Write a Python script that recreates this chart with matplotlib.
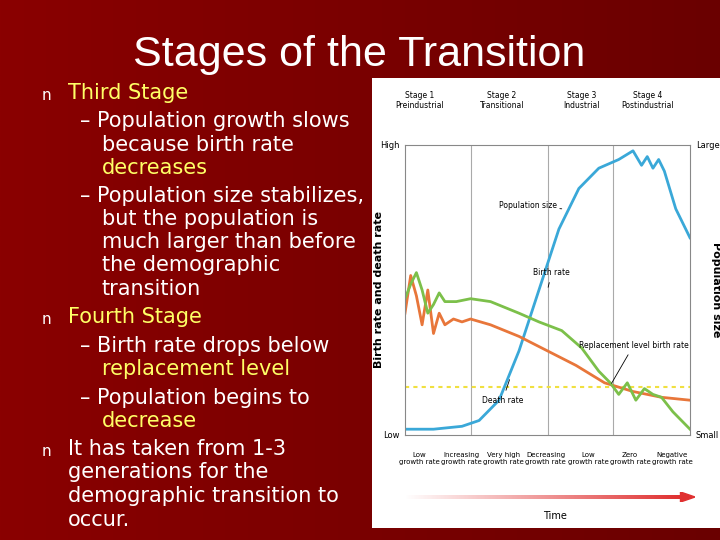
import numpy as np
import matplotlib
matplotlib.use("Agg")
import matplotlib.pyplot as plt
from matplotlib.colors import LinearSegmentedColormap

# ---- data (time 0-100, rates/pop 0-100) ----
birth_t = [0, 2, 4, 6, 8, 10, 12, 14, 18, 23, 30, 40, 47, 55, 62, 68, 72, 75, 78, 81, 84, 87, 90, 94, 97, 100]
birth_v = [47, 52, 56, 50, 42, 45, 49, 46, 46, 47, 46, 42, 39, 36, 30, 22, 18, 14, 18, 12, 16, 14, 13, 8, 5, 2]
death_t = [0, 2, 4, 6, 8, 10, 12, 14, 17, 20, 23, 30, 40, 50, 60, 70, 80, 90, 100]
death_v = [42, 55, 48, 38, 50, 35, 42, 38, 40, 39, 40, 38, 34, 29, 24, 18, 15, 13, 12]
pop_t = [0, 10, 20, 26, 33, 40, 47, 54, 61, 68, 75, 80, 83, 85, 87, 89, 91, 95, 100]
pop_v = [2, 2, 3, 5, 12, 29, 50, 71, 85, 92, 95, 98, 93, 96, 92, 95, 91, 78, 68]
replacement = 16.5
stage_bounds = [23, 50, 73]
stage_names = ["Stage 1\nPreindustrial", "Stage 2\nTransitional", "Stage 3\nIndustrial", "Stage 4\nPostindustrial"]
stage_x = [5, 34, 62, 85]
growth_labels = ["Low\ngrowth rate", "Increasing\ngrowth rate", "Very high\ngrowth rate", "Decreasing\ngrowth rate", "Low\ngrowth rate", "Zero\ngrowth rate", "Negative\ngrowth rate"]

W, H = 720, 540
fig = plt.figure(figsize=(7.2, 5.4), dpi=100)

bg = fig.add_axes([0, 0, 1, 1])
g = np.outer(np.ones(256), np.linspace(0, 1, 256))
cm = LinearSegmentedColormap.from_list("r", ["#8a0000", "#6a0000"])
bg.imshow(g, cmap=cm, aspect="auto", extent=[0, 1, 0, 1])
bg.set_axis_off()

def fx(px): return px / W
def fy(py): return 1 - py / H

fig.text(fx(359), fy(55), "Stages of the Transition", color="white", fontsize=31,
         ha="center", va="center", family="Liberation Sans")

Y = "#ffff66"
lines = [
    (68, 93, "Third Stage", Y, True),
    (80, 121, "– Population growth slows", "white", False),
    (102, 145, "because birth rate", "white", False),
    (102, 168, "decreases", Y, False),
    (80, 196, "– Population size stabilizes,", "white", False),
    (102, 219, "but the population is", "white", False),
    (102, 242, "much larger than before", "white", False),
    (102, 265, "the demographic", "white", False),
    (102, 289, "transition", "white", False),
    (68, 317, "Fourth Stage", Y, True),
    (80, 346, "– Birth rate drops below", "white", False),
    (102, 369, "replacement level", Y, False),
    (80, 398, "– Population begins to", "white", False),
    (102, 421, "decrease", Y, False),
    (68, 449, "It has taken from 1-3", "white", True),
    (68, 472, "generations for the", "white", False),
    (68, 496, "demographic transition to", "white", False),
    (68, 520, "occur.", "white", False),
]
for x, y, s, c, bullet in lines:
    fig.text(fx(x), fy(y), s, color=c, fontsize=15, va="center", family="DejaVu Sans")
    if bullet:
        fig.text(fx(42), fy(y + 2), "n", color="white", fontsize=11, va="center")

panel = fig.add_axes([fx(372), fy(528), fx(720 - 372), (528 - 78) / H])
panel.set_facecolor("white")
panel.set_xticks([]); panel.set_yticks([])
for s in panel.spines.values():
    s.set_visible(False)

ax = fig.add_axes([fx(405), fy(435), fx(690 - 405), (435 - 145) / H])
ax.set_xlim(0, 100); ax.set_ylim(0, 100)
ax.patch.set_alpha(0)
for s in ax.spines.values():
    s.set_color("#888888"); s.set_linewidth(0.8)
ax.set_xticks([]); ax.set_yticks([])
for b in stage_bounds:
    ax.axvline(b, color="#aaaaaa", lw=0.8)
ax.axhline(replacement, color="#f0e040", lw=1.5, ls=(0, (2, 2)))
ax.plot(pop_t, pop_v, color="#3aa8d8", lw=2)
ax.plot(death_t, death_v, color="#e8763a", lw=2)
ax.plot(birth_t, birth_v, color="#7cc04a", lw=2)

ax.text(-2, 100, "High", fontsize=6, ha="right", va="center")
ax.text(-2, 0, "Low", fontsize=6, ha="right", va="center")
ax.text(102, 100, "Large", fontsize=6, ha="left", va="center")
ax.text(102, 0, "Small", fontsize=6, ha="left", va="center")
for x, n in zip(stage_x, stage_names):
    ax.text(x, 112, n, fontsize=5.5, ha="center", va="bottom")
ax.annotate("Population size", (55, 78), (33, 79), fontsize=5.5, va="center",
            arrowprops=dict(arrowstyle="-", lw=0.6))
ax.annotate("Birth rate", (50, 50), (45, 56), fontsize=5.5, va="center",
            arrowprops=dict(arrowstyle="-", lw=0.6))
ax.annotate("Replacement level birth rate", (72, 17), (61, 31), fontsize=5.5, va="center",
            arrowprops=dict(arrowstyle="-", lw=0.6))
ax.annotate("Death rate", (37, 20), (27, 12), fontsize=5.5, va="center",
            arrowprops=dict(arrowstyle="-", lw=0.6))
ax.text(-9, 50, "Birth rate and death rate", rotation=90, fontsize=8, ha="center",
        va="center", fontweight="bold")
ax.text(109, 50, "Population size", rotation=270, fontsize=8, ha="center",
        va="center", fontweight="bold")
for i, gl in enumerate(growth_labels):
    ax.text(5 + i * 14.8, -6, gl, fontsize=5, ha="center", va="top")
ar = fig.add_axes([fx(405), fy(502), fx(290), 10 / H])
ar.set_axis_off()
ar.set_xlim(0, 1); ar.set_ylim(0, 1)
gg = np.outer(np.ones(2), np.linspace(0, 1, 256))
ar.imshow(gg, cmap=LinearSegmentedColormap.from_list("a", ["#ffffff", "#e03030"]),
          extent=[0, 0.95, 0.3, 0.7], aspect="auto")
ar.fill([0.95, 1, 0.95], [0, 0.5, 1], color="#e03030")
fig.text(fx(555), fy(516), "Time", fontsize=7, ha="center", va="center")

fig.savefig("out.png", dpi=100)
